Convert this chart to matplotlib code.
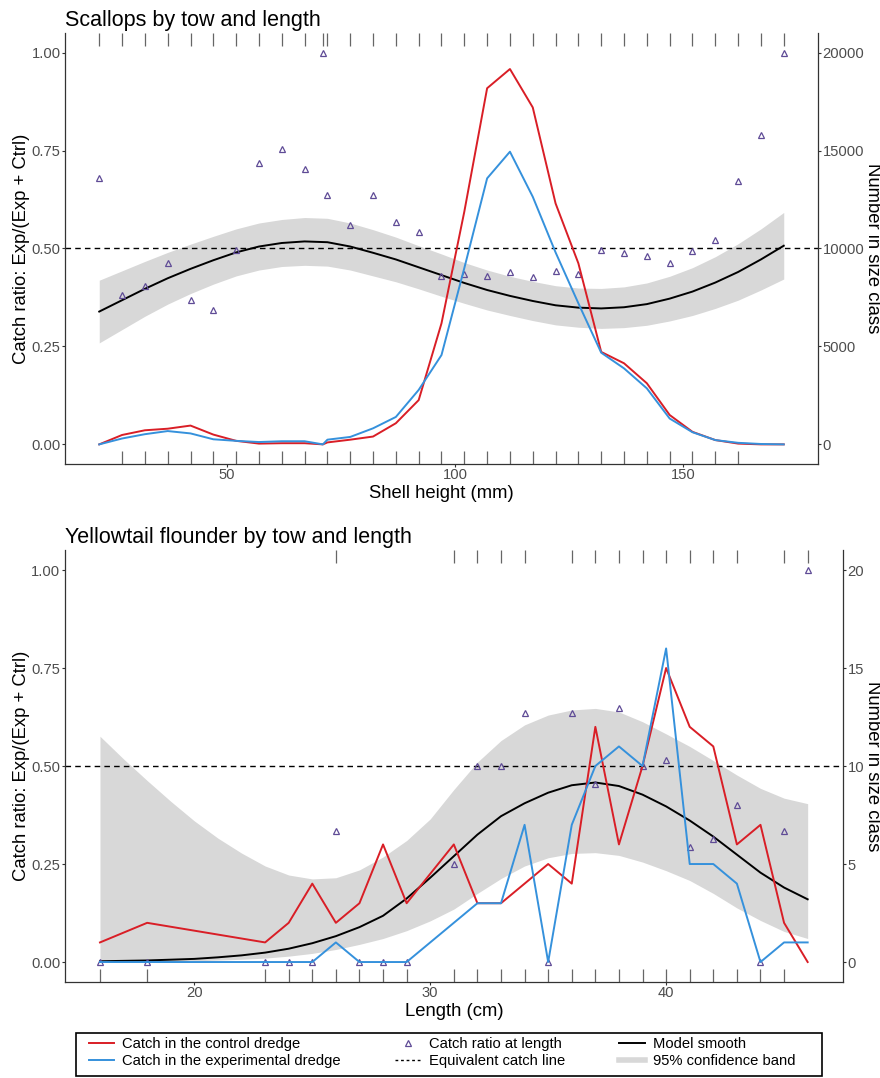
import matplotlib
matplotlib.use("Agg")
import matplotlib.pyplot as plt
from matplotlib.lines import Line2D
from matplotlib.patches import Rectangle

plt.rcParams['font.family'] = ['Liberation Sans', 'DejaVu Sans']

# --- scallops (shell height, mm) ---
sc_len = [22, 27, 32, 37, 42, 47, 52, 57, 62, 67, 71, 72, 77, 82, 87, 92, 97, 102,
          107, 112, 117, 122, 127, 132, 137, 142, 147, 152, 157, 162, 167, 172]
sc_ctrl = [0, 480, 720, 800, 960, 500, 180, 40, 60, 60, 0, 100, 240, 400, 1080, 2260,
           6180, 11880, 18180, 19160, 17200, 12300, 9240, 4720, 4140, 3120, 1500, 640,
           220, 40, 0, 0]
sc_exp = [0, 300, 520, 680, 560, 260, 180, 120, 160, 160, 0, 240, 380, 820, 1400, 2780,
          4560, 9000, 13580, 14940, 12640, 9800, 7200, 4680, 3880, 2860, 1320, 620,
          220, 80, 20, 0]
sc_ratio = [0.679, 0.382, 0.403, 0.464, 0.369, 0.342, 0.496, 0.718, 0.754, 0.704, 1.0,
            0.636, 0.56, 0.637, 0.567, 0.543, 0.43, 0.434, 0.431, 0.441, 0.426, 0.443,
            0.434, 0.496, 0.488, 0.482, 0.463, 0.494, 0.522, 0.673, 0.789, 1.0]
sc_fit_len = [22, 27, 32, 37, 42, 47, 52, 57, 62, 67, 72, 77, 82, 87, 92, 97, 102, 107,
              112, 117, 122, 127, 132, 137, 142, 147, 152, 157, 162, 167, 172]
sc_fit = [0.339, 0.368, 0.397, 0.424, 0.448, 0.47, 0.49, 0.505, 0.514, 0.518, 0.516,
          0.505, 0.489, 0.472, 0.452, 0.432, 0.412, 0.394, 0.379, 0.366, 0.355, 0.349,
          0.347, 0.35, 0.358, 0.372, 0.39, 0.413, 0.44, 0.472, 0.507]
sc_hi = [0.419, 0.443, 0.467, 0.49, 0.511, 0.531, 0.55, 0.565, 0.574, 0.579, 0.577,
         0.565, 0.548, 0.529, 0.507, 0.486, 0.464, 0.445, 0.429, 0.416, 0.405, 0.399,
         0.398, 0.402, 0.412, 0.429, 0.451, 0.479, 0.512, 0.55, 0.592]
sc_lo = [0.259, 0.293, 0.327, 0.358, 0.385, 0.409, 0.43, 0.445, 0.454, 0.457, 0.455,
         0.445, 0.43, 0.415, 0.397, 0.378, 0.36, 0.343, 0.329, 0.316, 0.305, 0.299,
         0.296, 0.298, 0.304, 0.315, 0.329, 0.347, 0.368, 0.394, 0.422]
sc_rug_top = sc_len
sc_rug_bottom = [27, 32, 37, 42, 47, 52, 57, 62, 67, 72, 77, 82, 87, 92, 97, 102, 107,
                 112, 117, 122, 127, 132, 137, 142, 147, 152, 157, 162]

# --- yellowtail flounder (length, cm) ---
yt_len = [16, 18, 23, 24, 25, 26, 27, 28, 29, 31, 32, 33, 34, 35, 36, 37, 38, 39, 40,
          41, 42, 43, 44, 45, 46]
yt_ctrl = [1, 2, 1, 2, 4, 2, 3, 6, 3, 6, 3, 3, 4, 5, 4, 12, 6, 10, 15, 12, 11, 6, 7, 2, 0]
yt_exp = [0, 0, 0, 0, 0, 1, 0, 0, 0, 2, 3, 3, 7, 0, 7, 10, 11, 10, 16, 5, 5, 4, 0, 1, 1]
yt_ratio = [0, 0, 0, 0, 0, 0.333, 0, 0, 0, 0.25, 0.5, 0.5, 0.636, 0, 0.636, 0.455,
            0.647, 0.5, 0.516, 0.294, 0.313, 0.4, 0, 0.333, 1.0]
yt_fit_len = [16, 17, 18, 19, 20, 21, 22, 23, 24, 25, 26, 27, 28, 29, 30, 31, 32, 33,
              34, 35, 36, 37, 38, 39, 40, 41, 42, 43, 44, 45, 46]
yt_fit = [0.002, 0.003, 0.004, 0.006, 0.008, 0.012, 0.017, 0.024, 0.034, 0.048, 0.066,
          0.089, 0.118, 0.162, 0.215, 0.27, 0.325, 0.372, 0.405, 0.432, 0.451, 0.458,
          0.449, 0.427, 0.397, 0.361, 0.32, 0.274, 0.228, 0.19, 0.16]
yt_hi = [0.576, 0.518, 0.463, 0.41, 0.36, 0.316, 0.278, 0.245, 0.222, 0.212, 0.215,
         0.235, 0.268, 0.31, 0.365, 0.44, 0.51, 0.565, 0.605, 0.63, 0.643, 0.647, 0.638,
         0.613, 0.582, 0.55, 0.514, 0.477, 0.443, 0.418, 0.404]
yt_lo = [0.0, 0.0, 0.001, 0.002, 0.003, 0.005, 0.007, 0.01, 0.015, 0.022, 0.032, 0.045,
         0.06, 0.08, 0.105, 0.135, 0.175, 0.213, 0.245, 0.266, 0.277, 0.279, 0.272,
         0.255, 0.233, 0.208, 0.175, 0.138, 0.106, 0.078, 0.06]
yt_rug_top = [26, 31, 32, 33, 34, 36, 37, 38, 39, 40, 41, 42, 43, 45, 46]
yt_rug_bottom = [16, 18, 23, 24, 25, 26, 27, 28, 29, 31, 32, 33, 34, 35, 36, 37, 38, 39,
                 40, 41, 42, 43, 44, 45]

RED = '#d91e26'
BLUE = '#3591dc'
BAND = '#d8d8d8'
TRI = '#5f4b96'
TICKCOL = '#4d4d4d'


def panel(rect, title, xlabel, xlim, xticks, cmax, cticks,
          lens, ctrl, exp, ratio, flen, fit, lo, hi, rug_top, rug_bot):
    ax = fig.add_axes(rect)
    ax.fill_between(flen, lo, hi, color=BAND, lw=0, zorder=1)
    ax.axhline(0.5, color='black', lw=1.0, dashes=(4, 3), zorder=2)
    ax.plot(flen, fit, color='black', lw=1.4, zorder=3)
    ax.plot(lens, ratio, ls='none', marker='^', ms=4.8, mfc='none', mec=TRI,
            mew=0.9, zorder=4)
    tr = ax.get_xaxis_transform()
    ax.vlines(rug_top, 0.97, 1.0, transform=tr, color='#666666', lw=0.9)
    ax.vlines(rug_bot, 0.0, 0.03, transform=tr, color='#666666', lw=0.9)

    ax.set_xlim(*xlim)
    ax.set_ylim(-0.05, 1.05)
    ax.set_xticks(xticks)
    ax.set_yticks([0, 0.25, 0.5, 0.75, 1.0])
    ax.set_yticklabels(['0.00', '0.25', '0.50', '0.75', '1.00'])
    ax.spines['top'].set_visible(False)
    ax.spines['right'].set_visible(False)
    for s in ('left', 'bottom'):
        ax.spines[s].set_color('#333333')
        ax.spines[s].set_linewidth(0.9)
    ax.tick_params(labelsize=10.6, labelcolor=TICKCOL, color='#333333',
                   length=2.0, width=0.8, pad=1.2)
    ax.set_xlabel(xlabel, fontsize=13.3, labelpad=2)
    ax.set_ylabel('Catch ratio: Exp/(Exp + Ctrl)', fontsize=13.3, labelpad=1)
    ax.set_title(title, loc='left', fontsize=15.5, pad=5)

    # counts on the secondary scale
    ax2 = ax.twinx()
    ax2.plot(lens, ctrl, color=RED, lw=1.4)
    ax2.plot(lens, exp, color=BLUE, lw=1.4)
    ax2.set_ylim(-0.05 * cmax, 1.05 * cmax)
    ax2.set_yticks(cticks)
    for s in ('top', 'left', 'bottom'):
        ax2.spines[s].set_visible(False)
    ax2.spines['right'].set_color('#333333')
    ax2.spines['right'].set_linewidth(0.9)
    ax2.tick_params(labelsize=10.6, labelcolor=TICKCOL, color='#333333',
                    length=2.0, width=0.8, pad=1.2)
    ax2.set_ylabel('Number in size class', fontsize=13.3, rotation=270,
                   labelpad=12)
    return ax


fig = plt.figure(figsize=(8.8, 10.78), dpi=100)

panel([0.0739, 0.5696, 0.8556, 0.3998], 'Scallops by tow and length',
      'Shell height (mm)', (14.5, 179.5), [50, 100, 150], 20000,
      [0, 5000, 10000, 15000, 20000],
      sc_len, sc_ctrl, sc_exp, sc_ratio, sc_fit_len, sc_fit, sc_lo, sc_hi,
      sc_rug_top, sc_rug_bottom)

panel([0.0734, 0.0894, 0.8846, 0.4000], 'Yellowtail flounder by tow and length',
      'Length (cm)', (14.5, 47.5), [20, 30, 40], 20, [0, 5, 10, 15, 20],
      yt_len, yt_ctrl, yt_exp, yt_ratio, yt_fit_len, yt_fit, yt_lo, yt_hi,
      yt_rug_top, yt_rug_bottom)

handles = [
    Line2D([], [], color=RED, lw=1.4),
    Line2D([], [], color=BLUE, lw=1.4),
    Line2D([], [], ls='none', marker='^', ms=4.2, mfc='none', mec=TRI, mew=0.9),
    Line2D([], [], color='black', lw=1.0, dashes=(2, 2)),
    Line2D([], [], color='black', lw=1.4),
    Line2D([], [], color=BAND, lw=4),
]
labels = ['Catch in the control dredge', 'Catch in the experimental dredge',
          'Catch ratio at length', 'Equivalent catch line',
          'Model smooth', '95% confidence band']
fig.legend(handles, labels, loc='lower left', ncol=3, mode='expand',
           bbox_to_anchor=(83 / 880, 4 / 1078, 718 / 880, 50 / 1078),
           fontsize=10.6, frameon=False,
           handlelength=1.7, handletextpad=0.55, labelspacing=0.2,
           borderpad=0.4, borderaxespad=0)
# legend box spans wider than the entries
fig.patches.append(Rectangle((76 / 880, 1 - 1076 / 1078), 746 / 880, 43 / 1078,
                             transform=fig.transFigure, fill=False,
                             edgecolor='black', lw=1.2))

fig.savefig('out.png', dpi=100, facecolor='white')
